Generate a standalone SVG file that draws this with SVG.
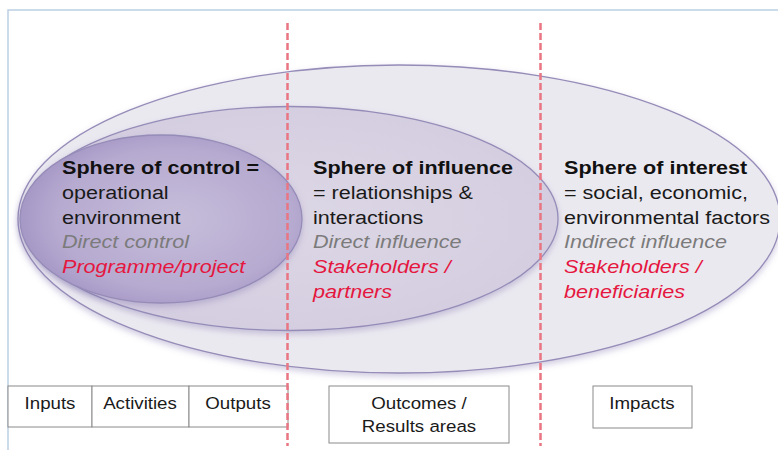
<svg xmlns="http://www.w3.org/2000/svg" width="778" height="450" viewBox="0 0 778 450">
<style>
  text { font-family: "Liberation Sans", Arial, sans-serif; }
  .sp { font-size: 19px; }
  .h { font-weight: bold; fill: #111; }
  .b { fill: #1a1a1a; }
  .g { font-style: italic; fill: #7b7b7b; }
  .r { font-style: italic; fill: #e5173f; }
  .ell { stroke: #968cb8; stroke-width: 1.3; }
  .box { fill: #fff; stroke: #8a8a8a; stroke-width: 1; }
  .lbl { font-size: 17px; fill: #1a1a1a; text-anchor: middle; }
  .div { stroke: #e97682; stroke-width: 2.5; stroke-dasharray: 7 3; fill: none; }
</style>
<defs>
  <radialGradient id="gInner" cx="0.55" cy="0.5" r="0.6">
    <stop offset="0" stop-color="#c6bdda"/>
    <stop offset="0.7" stop-color="#b6aad0"/>
    <stop offset="1" stop-color="#a091c2"/>
  </radialGradient>
  <radialGradient id="gMid" cx="0.5" cy="0.5" r="0.6">
    <stop offset="0" stop-color="#dcd7e5"/>
    <stop offset="1" stop-color="#d3cce0"/>
  </radialGradient>
  <filter id="sh" x="-10%" y="-10%" width="120%" height="130%">
    <feDropShadow dx="0" dy="3" stdDeviation="3" flood-color="#7a6aa8" flood-opacity="0.35"/>
  </filter>
</defs>
<rect x="0" y="0" width="778" height="450" fill="#ffffff"/>
<!-- frame -->
<path d="M8 450 V10 H778" fill="none" stroke="#bcd0e4" stroke-width="1.5"/>

<g id="sphere-interest">
  <ellipse class="ell" cx="399" cy="219" rx="381" ry="154" fill="#ebe9f0" filter="url(#sh)"/>
  <text class="sp" transform="translate(564 174) scale(1.135 1)">
    <tspan class="h" x="0" y="0">Sphere of interest</tspan>
    <tspan class="b" x="0" y="24.8">= social, economic,</tspan>
    <tspan class="b" x="0" y="49.6">environmental factors</tspan>
    <tspan class="g" x="0" y="74.4">Indirect influence</tspan>
    <tspan class="r" x="0" y="99.2">Stakeholders /</tspan>
    <tspan class="r" x="0" y="124">beneficiaries</tspan>
  </text>
</g>

<g id="sphere-influence">
  <ellipse class="ell" cx="290" cy="218.5" rx="268" ry="112" fill="url(#gMid)" filter="url(#sh)"/>
  <text class="sp" transform="translate(313 174) scale(1.135 1)">
    <tspan class="h" x="0" y="0">Sphere of influence</tspan>
    <tspan class="b" x="0" y="24.8">= relationships &amp;</tspan>
    <tspan class="b" x="0" y="49.6">interactions</tspan>
    <tspan class="g" x="0" y="74.4">Direct influence</tspan>
    <tspan class="r" x="0" y="99.2">Stakeholders /</tspan>
    <tspan class="r" x="0" y="124">partners</tspan>
  </text>
</g>

<g id="sphere-control">
  <ellipse class="ell" cx="161" cy="219" rx="141" ry="84" fill="url(#gInner)" filter="url(#sh)"/>
  <text class="sp" transform="translate(62 174) scale(1.135 1)">
    <tspan class="h" x="0" y="0">Sphere of control =</tspan>
    <tspan class="b" x="0" y="24.8">operational</tspan>
    <tspan class="b" x="0" y="49.6">environment</tspan>
    <tspan class="g" x="0" y="74.4">Direct control</tspan>
    <tspan class="r" x="0" y="99.2">Programme/project</tspan>
  </text>
</g>

<g id="box-inputs">
  <rect class="box" x="8" y="386" width="84" height="41"/>
  <text class="lbl" transform="translate(50 409) scale(1.1 1)">Inputs</text>
</g>
<g id="box-activities">
  <rect class="box" x="92" y="386" width="97" height="41"/>
  <text class="lbl" transform="translate(140 409) scale(1.1 1)">Activities</text>
</g>
<g id="box-outputs">
  <rect class="box" x="189" y="386" width="99" height="41"/>
  <text class="lbl" transform="translate(238 409) scale(1.1 1)">Outputs</text>
</g>
<g id="box-outcomes">
  <rect class="box" x="329" y="386" width="180" height="57"/>
  <text class="lbl" transform="translate(419 409) scale(1.1 1)">Outcomes /</text>
  <text class="lbl" transform="translate(419 432) scale(1.1 1)">Results areas</text>
</g>
<g id="box-impacts">
  <rect class="box" x="593" y="386" width="99" height="42"/>
  <text class="lbl" transform="translate(642 409) scale(1.1 1)">Impacts</text>
</g>

<g id="connectors">
  <line class="div" x1="287.5" y1="23" x2="287.5" y2="446"/>
  <line class="div" x1="540.5" y1="23" x2="540.5" y2="446"/>
</g>
</svg>
